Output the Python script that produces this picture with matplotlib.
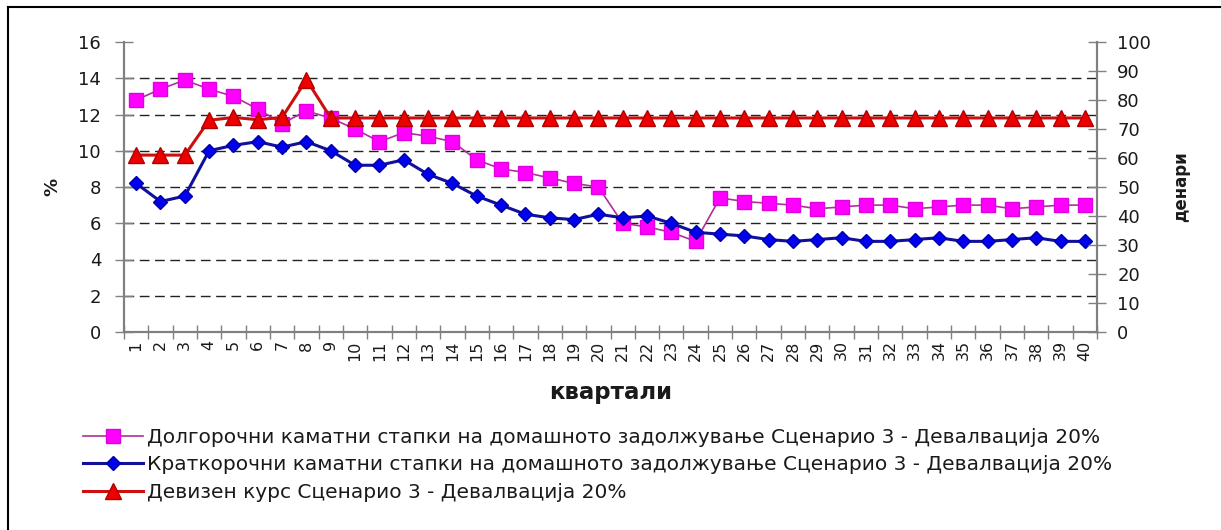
"""
Interest rates and exchange rate, Scenario 3 - devaluation 20%
"""

import matplotlib
matplotlib.use('Agg')
import matplotlib.pyplot as plt
from matplotlib.lines import Line2D

#---------------------------------------------------------------------------------------------------
# Data
#---------------------------------------------------------------------------------------------------

quarters = list(range(1, 41))

long_rates = [12.8, 13.4, 13.9, 13.4, 13.0, 12.3, 11.5, 12.2, 11.8, 11.2,
              10.5, 11.0, 10.8, 10.5, 9.5, 9.0, 8.8, 8.5, 8.2, 8.0,
              6.0, 5.8, 5.5, 5.0, 7.4, 7.2, 7.1, 7.0, 6.8, 6.9,
              7.0, 7.0, 6.8, 6.9, 7.0, 7.0, 6.8, 6.9, 7.0, 7.0]

short_rates = [8.2, 7.2, 7.5, 10.0, 10.3, 10.5, 10.2, 10.5, 10.0, 9.2,
               9.2, 9.5, 8.7, 8.2, 7.5, 7.0, 6.5, 6.3, 6.2, 6.5,
               6.3, 6.4, 6.0, 5.5, 5.4, 5.3, 5.1, 5.0, 5.1, 5.2,
               5.0, 5.0, 5.1, 5.2, 5.0, 5.0, 5.1, 5.2, 5.0, 5.0]

exch_rate = [61.0, 61.0, 61.0, 73.0, 74.0, 73.2, 74.0, 87.0, 73.8, 73.8,
             73.8, 73.8, 73.8, 73.8, 73.8, 73.8, 73.8, 73.8, 73.8, 73.8,
             73.8, 73.8, 73.8, 73.8, 73.8, 73.8, 73.8, 73.8, 73.8, 73.8,
             73.8, 73.8, 73.8, 73.8, 73.8, 73.8, 73.8, 73.8, 73.8, 73.8]

labels = ['Долгорочни каматни стапки на домашното задолжување Сценарио 3 - Девалвација 20%',
          'Краткорочни каматни стапки на домашното задолжување Сценарио 3 - Девалвација 20%',
          'Девизен курс Сценарио 3 - Девалвација 20%']

left_ticks = list(range(0, 17, 2))
right_ticks = list(range(0, 101, 10))

#---------------------------------------------------------------------------------------------------
# Plot
#---------------------------------------------------------------------------------------------------

W, H = 1221, 530
fig = plt.figure(figsize=(W / 100, H / 100), dpi=100)
ax = fig.add_axes([124 / W, 1 - 332 / H, (1097 - 124) / W, (332 - 42) / H])
ax2 = ax.twinx()

txt_col = '#1a1a1a'
axis_col = '#808080'

l1, = ax.plot(quarters, long_rates, color='#b0309a', lw=1.2, marker='s', ms=10.5,
              mfc='#ff00ff', mec='#e000e0', mew=1, zorder=3)
l2, = ax.plot(quarters, short_rates, color='#10109a', lw=2.2, marker='D', ms=7.5,
              mfc='#0000ee', mec='#0000aa', mew=1, zorder=4)
l3, = ax2.plot(quarters, exch_rate, color='#cc1010', lw=2.2, marker='^', ms=11.5,
               mfc='#ee0000', mec='#b00000', mew=1, zorder=5)

# Axes limits and ticks
ax.set_xlim(0.5, 40.5)
ax.set_ylim(0, 16)
ax2.set_ylim(0, 100)
ax.set_yticks(left_ticks)
ax2.set_yticks(right_ticks)
ax.set_xticks(quarters)
ax.set_xticklabels([str(q) for q in quarters], rotation=90, fontsize=11.5, color=txt_col)
ax.set_xticks([q - 0.5 for q in quarters] + [quarters[-1] + 0.5], minor=True)

ax.tick_params(axis='x', which='major', length=0, pad=6)
ax.tick_params(axis='x', which='minor', direction='inout', length=10, width=1, color=axis_col)
ax.tick_params(axis='y', direction='inout', length=13, width=1, color=axis_col,
               labelsize=13, labelcolor=txt_col, pad=10)
ax2.tick_params(axis='y', direction='inout', length=13, width=1, color=axis_col,
                labelsize=13, labelcolor=txt_col, pad=8)

# Grid (no line at top / bottom)
ax.yaxis.grid(True, color='#222222', ls=(0, (7, 4)), lw=1)
gls = ax.get_ygridlines()
gls[0].set_visible(False)
gls[-1].set_visible(False)
ax.set_axisbelow(True)

# Spines
for a in [ax, ax2]:
    a.spines['top'].set_visible(False)
    for s in ['left', 'right', 'bottom']:
        a.spines[s].set_color(axis_col)
        a.spines[s].set_linewidth(1.5)

# Axis labels
ax.set_ylabel('%', fontsize=13, fontweight='bold', color=txt_col)
ax.yaxis.set_label_coords(-0.064, 0.5)
ax2.set_ylabel('денари', fontsize=12, fontweight='bold', color=txt_col)
ax2.yaxis.set_label_coords(1.077, 0.5)
ax.set_xlabel('квартали', fontsize=16.5, fontweight='bold', color=txt_col)
ax.xaxis.set_label_coords(0.5, -0.17)

# Legend
fig.legend([l1, l2, l3], labels, loc='upper left', bbox_to_anchor=(83 / W, 1 - 428 / H),
           frameon=False, fontsize=14.5, handlelength=3.0, handletextpad=0.2,
           labelspacing=0.42, borderpad=0, borderaxespad=0, labelcolor=txt_col)

# Outer chart frame (cut off at right/bottom)
fig.add_artist(Line2D([8 / W, 8 / W], [0, 1 - 7 / H], transform=fig.transFigure, color='black', lw=1.5))
fig.add_artist(Line2D([8 / W, 1], [1 - 7 / H, 1 - 7 / H], transform=fig.transFigure, color='black', lw=1.5))

plt.savefig('out.png', dpi=100)
plt.close()
